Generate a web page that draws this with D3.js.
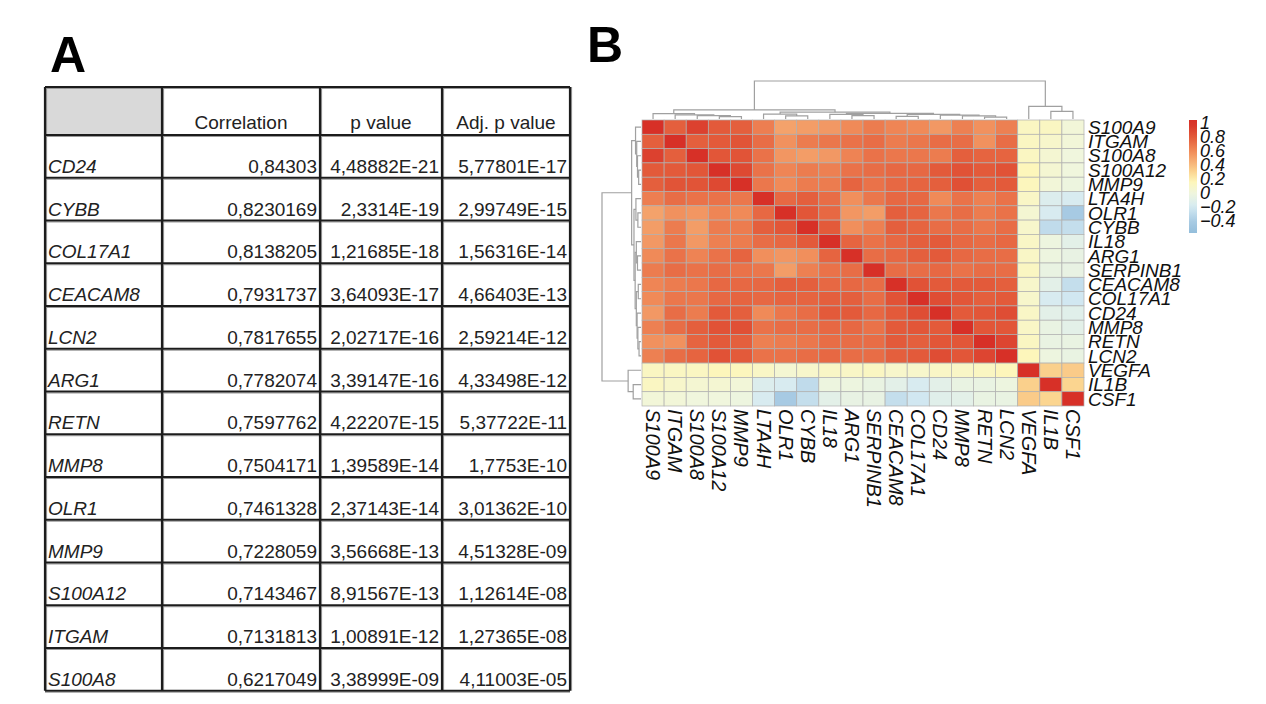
<!DOCTYPE html>
<html><head><meta charset="utf-8">
<script src="https://cdn.jsdelivr.net/npm/d3@7"></script>
<style>
body{margin:0;background:#fff}
svg{display:block}
text{font-family:"Liberation Sans",Arial,Helvetica,sans-serif}
</style>
</head><body>
<svg id="chart" width="1266" height="704"></svg>
<script>
// ---------- DATA ----------
const genes = ["S100A9","ITGAM","S100A8","S100A12","MMP9","LTA4H","OLR1","CYBB","IL18","ARG1",
  "SERPINB1","CEACAM8","COL17A1","CD24","MMP8","RETN","LCN2","VEGFA","IL1B","CSF1"];

// upper triangle of correlation matrix: row i holds values for columns j > i
const corrUpper = [
  [0.78,0.92,0.80,0.78,0.65,0.50,0.52,0.54,0.60,0.66,0.62,0.60,0.54,0.64,0.57,0.64,0.12,0.12,0.02],
  [0.78,0.80,0.83,0.72,0.57,0.66,0.68,0.70,0.72,0.66,0.68,0.72,0.72,0.57,0.72,0.12,0.08,0.02],
  [0.82,0.83,0.70,0.55,0.52,0.54,0.63,0.70,0.68,0.68,0.66,0.78,0.76,0.76,0.12,0.05,0.00],
  [0.88,0.70,0.62,0.66,0.64,0.70,0.72,0.74,0.74,0.80,0.84,0.80,0.84,0.15,0.05,0.00],
  [0.68,0.60,0.66,0.66,0.76,0.70,0.74,0.76,0.78,0.85,0.78,0.80,0.14,0.02,-0.02],
  [0.74,0.78,0.72,0.58,0.68,0.74,0.74,0.60,0.70,0.64,0.70,0.10,-0.15,-0.18],
  [0.82,0.74,0.55,0.52,0.78,0.76,0.68,0.72,0.66,0.70,0.05,-0.18,-0.42],
  [0.80,0.58,0.64,0.78,0.76,0.72,0.72,0.68,0.72,0.08,-0.30,-0.28],
  [0.76,0.70,0.74,0.78,0.80,0.74,0.72,0.74,0.10,-0.02,-0.10],
  [0.72,0.74,0.78,0.80,0.74,0.72,0.72,0.10,-0.02,-0.06],
  [0.72,0.72,0.74,0.70,0.72,0.72,0.12,-0.05,-0.06],
  [0.84,0.80,0.80,0.80,0.78,0.08,-0.10,-0.28],
  [0.86,0.82,0.78,0.80,0.08,-0.18,-0.22],
  [0.80,0.82,0.86,0.10,-0.10,-0.12],
  [0.82,0.82,0.10,-0.05,-0.10],
  [0.90,0.12,-0.05,-0.05],
  [0.15,-0.02,-0.05],
  [0.32,0.34],
  [0.30],
  []
];

// hierarchical clustering merges: [left, right, height] ; "mK" refers to merge K
const merges = [
  ["S100A12","MMP9",0.06],
  ["S100A8","m0",0.09],
  ["ITGAM","m1",0.11],
  ["S100A9","m2",0.14],
  ["OLR1","CYBB",0.08],
  ["LTA4H","m4",0.13],
  ["ARG1","SERPINB1",0.09],
  ["IL18","m6",0.12],
  ["CEACAM8","COL17A1",0.07],
  ["RETN","LCN2",0.05],
  ["MMP8","m9",0.08],
  ["CD24","m10",0.10],
  ["m8","m11",0.12],
  ["m7","m12",0.15],
  ["m5","m13",0.18],
  ["m3","m14",0.24],
  ["IL1B","CSF1",0.20],
  ["VEGFA","m16",0.33],
  ["m15","m17",1.0]
];

const legendTicks = [1,0.8,0.6,0.4,0.2,0,-0.2,-0.4];
const colorStops = [-0.58,-0.4,-0.2,0,0.15,0.3,0.45,0.6,0.8,1];
const colorRange = ["#93bedb","#aacce4","#d5eaf2","#f0f6dd","#fdf6bb","#fbd590","#f6ae75","#f08a58","#e35a3a","#d73027"];

const tableHeaders = ["","Correlation","p value","Adj. p value"];
const tableGenes = ["CD24","CYBB","COL17A1","CEACAM8","LCN2","ARG1","RETN","MMP8","OLR1","MMP9","S100A12","ITGAM","S100A8"];
const tableCorr = ["0,84303","0,8230169","0,8138205","0,7931737","0,7817655","0,7782074","0,7597762","0,7504171","0,7461328","0,7228059","0,7143467","0,7131813","0,6217049"];
const tablePval = ["4,48882E-21","2,3314E-19","1,21685E-18","3,64093E-17","2,02717E-16","3,39147E-16","4,22207E-15","1,39589E-14","2,37143E-14","3,56668E-13","8,91567E-13","1,00891E-12","3,38999E-09"];
const tableAdj = ["5,77801E-17","2,99749E-15","1,56316E-14","4,66403E-13","2,59214E-12","4,33498E-12","5,37722E-11","1,7753E-10","3,01362E-10","4,51328E-09","1,12614E-08","1,27365E-08","4,11003E-05"];

// ---------- DRAW ----------
const svg = d3.select("#chart");

// Panel labels
svg.append("text").attr("x",50).attr("y",72).attr("font-size",50).attr("font-weight","bold").text("A");
svg.append("text").attr("x",587).attr("y",62).attr("font-size",50).attr("font-weight","bold").text("B");

// ---- Table (panel A) ----
const colEdges = [45,162,320,442,570];
const tTop = 87, headBottom = 135, rowH = 42.75;
const tBottom = headBottom + rowH*tableGenes.length;
const tg = svg.append("g");
tg.append("rect").attr("x",colEdges[0]).attr("y",tTop).attr("width",colEdges[1]-colEdges[0]).attr("height",headBottom-tTop).attr("fill","#d9d9d9");
const hLines = [tTop, headBottom].concat(tableGenes.map((g,i)=>headBottom+rowH*(i+1)));
// soft shadow lines
tg.selectAll("line.hs").data(hLines).join("line")
  .attr("x1",colEdges[0]).attr("x2",colEdges[4]).attr("y1",d=>d+1.5).attr("y2",d=>d+1.5)
  .attr("stroke","#9a9a9a").attr("stroke-width",1.2);
tg.selectAll("line.vs").data(colEdges).join("line")
  .attr("x1",d=>d+1.5).attr("x2",d=>d+1.5).attr("y1",tTop).attr("y2",tBottom)
  .attr("stroke","#9a9a9a").attr("stroke-width",1.2);
tg.selectAll("line.h").data(hLines).join("line")
  .attr("x1",colEdges[0]).attr("x2",colEdges[4]).attr("y1",d=>d).attr("y2",d=>d)
  .attr("stroke","#1c1c1c").attr("stroke-width",2.2);
tg.selectAll("line.v").data(colEdges).join("line")
  .attr("x1",d=>d).attr("x2",d=>d).attr("y1",tTop).attr("y2",tBottom)
  .attr("stroke","#1c1c1c").attr("stroke-width",2.2);
tableHeaders.forEach((h,k)=>{
  if(!h) return;
  tg.append("text").attr("x",(colEdges[k]+colEdges[k+1])/2).attr("y",headBottom-6)
    .attr("text-anchor","middle").attr("font-size",19).attr("fill","#222").text(h);
});
tableGenes.forEach((g,i)=>{
  const yb = headBottom + rowH*(i+1) - 5;
  tg.append("text").attr("x",colEdges[0]+3).attr("y",yb).attr("font-size",19).attr("font-style","italic").attr("fill","#222").text(g);
  [tableCorr[i],tablePval[i],tableAdj[i]].forEach((v,k)=>{
    tg.append("text").attr("x",colEdges[k+2]-3).attr("y",yb).attr("text-anchor","end").attr("font-size",19).attr("fill","#222").text(v);
  });
});

// ---- Heatmap (panel B) ----
const M = genes.map((g,i)=>genes.map((h,j)=> i===j ? 1 : (j>i ? corrUpper[i][j-i-1] : corrUpper[j][i-j-1])));
const x = d3.scaleBand().domain(genes).range([642,1084]);
const y = d3.scaleBand().domain(genes).range([120,406]);
const color = d3.scaleLinear().domain(colorStops).range(colorRange).interpolate(d3.interpolateRgb).clamp(true);

const cells = [];
genes.forEach((gi,i)=>genes.forEach((gj,j)=>cells.push({r:gi,c:gj,v:M[i][j]})));
svg.append("g").selectAll("rect").data(cells).join("rect")
  .attr("x",d=>x(d.c)).attr("y",d=>y(d.r))
  .attr("width",x.bandwidth()).attr("height",y.bandwidth())
  .attr("fill",d=>color(d.v)).attr("stroke","#b0b0b0").attr("stroke-width",0.7);

svg.append("g").selectAll("text").data(genes).join("text")
  .attr("x",1088).attr("y",d=>y(d)+y.bandwidth()/2).attr("dy","0.35em")
  .attr("font-size",19).attr("font-style","italic").attr("fill","#111").text(d=>d);
svg.append("g").selectAll("text").data(genes).join("text")
  .attr("transform",d=>`translate(${x(d)+x.bandwidth()/2},409) rotate(90)`).attr("dy","0.35em")
  .attr("font-size",20).attr("font-style","italic").attr("fill","#111").text(d=>d);

function buildTree(posFn){
  const nodes = {};
  genes.forEach(g=>nodes[g]={p:posFn(g),h:0});
  const segs = [];
  merges.forEach((m,k)=>{
    const a = nodes[m[0]], b = nodes[m[1]];
    segs.push({a,b,h:m[2]});
    nodes["m"+k] = {p:(a.p+b.p)/2,h:m[2]};
  });
  return segs;
}
const topH = d3.scaleLinear().domain([0,1]).range([119,81]);
const topSegs = buildTree(g=>x(g)+x.bandwidth()/2);
svg.append("g").selectAll("path").data(topSegs).join("path")
  .attr("d",s=>`M${s.a.p},${topH(s.a.h)}V${topH(s.h)}H${s.b.p}V${topH(s.b.h)}`)
  .attr("fill","none").attr("stroke","#a0a0a0").attr("stroke-width",1.2);
const leftH = d3.scaleLinear().domain([0,1]).range([641,602]);
const leftSegs = buildTree(g=>y(g)+y.bandwidth()/2);
svg.append("g").selectAll("path").data(leftSegs).join("path")
  .attr("d",s=>`M${leftH(s.a.h)},${s.a.p}H${leftH(s.h)}V${s.b.p}H${leftH(s.b.h)}`)
  .attr("fill","none").attr("stroke","#a0a0a0").attr("stroke-width",1.2);

const ly = d3.scaleLinear().domain([1,-0.4]).range([123,220.6]);
const barTop = 120, barBot = 233;
const grad = svg.append("defs").append("linearGradient").attr("id","lg").attr("x1",0).attr("x2",0).attr("y1",0).attr("y2",1);
d3.range(0,1.0001,0.05).forEach(t=>{
  const v = ly.invert(barTop + t*(barBot-barTop));
  grad.append("stop").attr("offset",t).attr("stop-color",color(v));
});
svg.append("rect").attr("x",1189).attr("y",barTop).attr("width",8).attr("height",barBot-barTop).attr("fill","url(#lg)");
svg.append("g").selectAll("text").data(legendTicks).join("text")
  .attr("x",1200).attr("y",d=>ly(d)).attr("dy","0.35em")
  .attr("font-size",18).attr("font-style","italic").attr("fill","#111")
  .text(d=>d3.format("")(d).replace("-","\u2212"));
</script>
</body></html>
